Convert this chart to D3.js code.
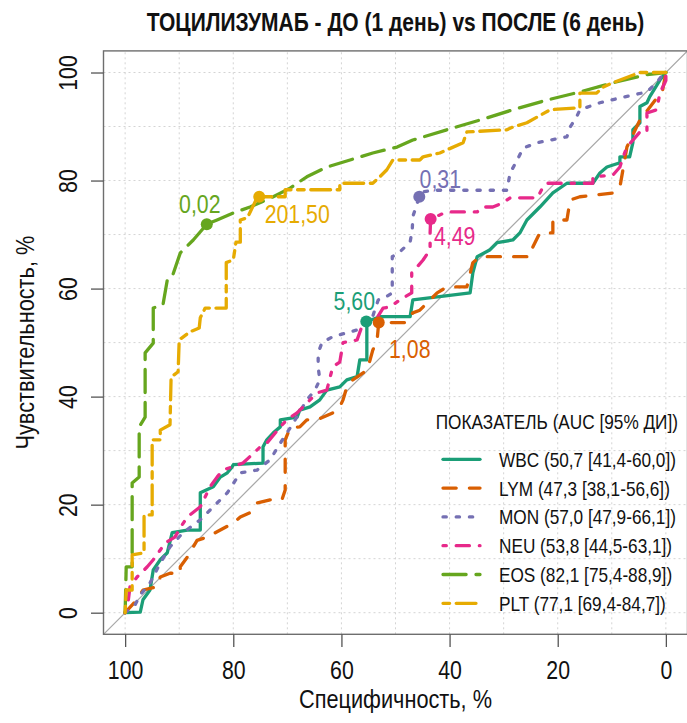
<!DOCTYPE html>
<html><head><meta charset="utf-8">
<script src="https://cdn.jsdelivr.net/npm/d3@7"></script>
<style>body{margin:0;background:#fff}svg{display:block}</style>
</head><body><svg id="c" width="687" height="723"></svg>
<script>
// ---------- DATA ----------
const seriesNames = ["WBC","LYM","MON","NEU","EOS","PLT"];
const legendLabels = ["WBC (50,7 [41,4-60,0])","LYM (47,3 [38,1-56,6])","MON (57,0 [47,9-66,1])",
  "NEU (53,8 [44,5-63,1])","EOS (82,1 [75,4-88,9])","PLT (77,1 [69,4-84,7])"];
const legendTitle = "ПОКАЗАТЕЛЬ (AUC [95% ДИ])";
const xTicks = [100,80,60,40,20,0];
const yTicks = [0,20,40,60,80,100];
const gridVals = [0,10,20,30,40,50,60,70,80,90,100];

// [specificity %, sensitivity %]
const WBC = [[100,0],[97.2,0.1],[96.7,2.4],[95.4,4.2],[94.8,7.9],[93.5,9.8],[92.2,11.1],[91.3,14.8],[88.5,15.3],[86.1,15.3],[86.1,22.2],[83.7,23.3],[82.4,25.1],[81.1,25.9],[80.2,27.0],[80.0,27.4],[74.5,27.7],[74.5,30.7],[73.8,32.0],[72.6,33.3],[71.3,34.4],[71.3,35.7],[68.2,36.2],[67.7,37.5],[65.8,38.1],[64.0,39.4],[62.7,41.2],[60.3,41.8],[59.0,43.1],[57.1,43.7],[56.6,46.8],[55.3,46.8],[55.3,53.9],[52.9,54.8],[47.3,54.8],[46.8,57.9],[36.2,59.2],[35.7,62.9],[34.9,65.9],[32.5,67.2],[31.2,68.5],[28.3,69.0],[27.0,70.3],[25.7,72.7],[23.3,75.1],[20.9,77.7],[18.3,79.5],[13.5,79.5],[12.2,81.4],[10.9,82.5],[8.5,83.3],[8.5,84.4],[6.7,84.4],[6.1,87.0],[6.1,89.4],[4.8,90.7],[4.8,93.7],[3.5,94.4],[3.0,95.5],[1.1,98.6],[0,100]];
const LYM = [[100,0],[97.8,2.4],[96.7,4.2],[94.1,4.8],[93.5,6.6],[91.7,7.3],[89.8,7.3],[89.8,8.5],[88.5,10.3],[86.7,13.4],[84.8,14.0],[82.4,15.3],[80.0,16.6],[78.7,17.7],[76.9,18.5],[75.6,20.3],[73.2,20.9],[71.0,20.9],[70.4,22.7],[70.4,32.0],[69.5,34.2],[67.7,34.4],[66.4,35.7],[64.5,35.7],[61.6,37.0],[60.3,38.1],[59.7,39.4],[59.0,41.8],[57.9,43.1],[56.0,44.4],[55.3,44.9],[54.7,46.8],[54.2,48.6],[53.4,50.5],[53.1,53.7],[50.5,53.7],[47.9,53.7],[46.8,55.5],[45.5,56.0],[43.6,57.9],[42.3,59.2],[40.5,60.3],[36.8,60.3],[35.7,64.8],[34.4,65.9],[30.1,65.9],[25.1,65.9],[24.6,67.7],[23.3,70.3],[20.9,70.3],[20.9,72.7],[18.3,72.7],[17.7,76.4],[15.9,77.0],[9.8,77.7],[9.1,78.3],[8.5,78.8],[7.2,86.2],[4.8,91.2],[0.6,96.7],[0,100]];
const MON = [[100,0],[98.2,1.4],[97.2,3.3],[95.4,5.5],[93.5,9.2],[91.7,12.2],[89.3,14.8],[86.1,17.2],[83.7,19.6],[81.1,22.2],[78.7,25.9],[75.6,26.4],[73.2,28.3],[71.3,31.4],[68.9,35.1],[66.4,39.4],[64.9,41.2],[64.0,43.1],[64.3,45.5],[64.3,48.1],[63.6,50.0],[61.6,51.1],[56.9,52.4],[54.3,54.6],[53.2,57.9],[51.9,58.4],[50.6,59.2],[50.6,65.9],[49.2,66.8],[47.3,68.6],[46.9,70.9],[46.8,73.3],[45.6,77.0],[44.9,77.9],[43.1,78.2],[29.4,78.2],[28.8,81.4],[27.5,83.8],[26.4,86.0],[23.8,87.0],[18.3,88.1],[17.7,89.9],[16.5,91.8],[15.9,93.1],[12.2,94.4],[8.5,95.3],[3.5,96.4],[1.7,98.1],[0.6,99.6],[0,100]];
const NEU = [[100,0],[99.4,2.4],[99.1,4.8],[97.8,6.6],[95.9,8.5],[94.8,9.8],[93.5,11.6],[92.6,12.9],[90.8,14.0],[89.5,16.2],[88.5,17.7],[86.1,19.6],[84.3,23.3],[83.0,25.1],[81.9,26.4],[78.2,27.7],[75.0,30.7],[73.8,31.4],[71.3,34.4],[70.1,35.7],[68.2,37.0],[67.1,38.1],[64.5,40.7],[62.7,41.2],[61.6,45.5],[60.3,46.4],[59.7,50.0],[57.1,50.5],[56.0,53.6],[53.4,54.6],[52.3,56.4],[51.0,56.6],[49.2,57.9],[47.0,59.2],[47.0,62.9],[46.0,64.0],[44.9,65.3],[43.6,67.2],[43.6,70.3],[43.5,72.9],[40.5,74.2],[34.9,74.2],[33.8,75.1],[32.0,75.1],[30.1,75.9],[28.8,76.8],[23.8,76.8],[22.7,78.8],[22.0,79.5],[13.5,79.5],[13.5,80.7],[9.8,81.0],[8.5,82.5],[7.9,84.4],[7.2,86.2],[4.8,89.0],[3.5,89.0],[3.5,92.5],[1.7,93.1],[1.1,96.2],[0,98.5],[0,100]];
const EOS = [[100,0],[99.8,8.5],[98.7,8.5],[98.7,24.0],[97.4,25.1],[97.4,34.4],[96.3,36.2],[96.3,48.1],[94.8,49.9],[94.8,56.4],[93.0,57.0],[92.2,61.6],[91.3,62.2],[89.8,66.6],[87.4,69.0],[84.9,71.9],[83.0,72.7],[80.0,74.0],[76.9,75.1],[72.6,77.0],[69.5,78.6],[66.4,80.7],[62.7,82.5],[58.4,83.8],[54.2,85.1],[49.7,86.2],[46.8,87.5],[40.5,89.4],[34.4,91.2],[28.3,93.1],[22.0,94.9],[15.9,96.4],[9.8,98.1],[3.5,99.6],[0,100]];
const PLT = [[100,0],[99.8,4.2],[98.7,4.2],[98.7,10.7],[96.5,11.1],[96.5,18.1],[95.0,18.1],[95.0,32.0],[93.5,32.0],[93.5,33.8],[91.7,34.8],[91.5,43.6],[90.2,44.6],[90.0,50.5],[88.0,52.0],[86.3,52.7],[86.1,54.6],[85.2,56.4],[81.3,56.4],[81.3,64.8],[80.0,65.3],[79.5,68.6],[78.7,68.6],[78.7,72.7],[77.4,73.1],[75.8,76.4],[75.2,77.0],[70.4,77.0],[70.4,78.3],[60.3,78.3],[60.3,79.5],[54.2,79.5],[52.9,80.7],[51.6,82.0],[50.5,83.8],[45.5,83.8],[44.9,84.4],[41.8,85.1],[37.5,87.0],[36.8,89.0],[29.4,89.4],[28.3,89.9],[25.7,90.7],[21.4,93.1],[15.9,93.5],[15.9,96.2],[12.8,96.2],[11.6,97.3],[9.8,98.1],[4.8,100],[0,100]];

// best thresholds (spec, sens, label) per series
const thrSpec = [55.4, 53.1, 45.6, 43.5, 84.9, 75.2];
const thrSens = [53.9, 53.7, 77.0, 72.9, 71.9, 77.0];
const thrLabels = ["5,60","1,08","0,31","4,49","0,02","201,50"];

// ---------- STYLE ----------
const colors = ["#1B9E77","#D95F02","#7570B3","#E7298A","#66A61E","#E6AB02"];
const L = 3.3;
const dashPat = [null,[4,4],[1,3],[1,3,4,3],[7,3],[2,2,6,2]];
const labelOff = [[-12,-12],[31,35],[21,-9],[24,26],[-7,-11],[38,26]];
const FONT = "'Liberation Sans', Arial, sans-serif";
const NX = 0.82;

const allSeries = [WBC, LYM, MON, NEU, EOS, PLT];

const svg = d3.select("#c");
const x = d3.scaleLinear().domain([104,-4]).range([103.5,687.5]);
const y = d3.scaleLinear().domain([-4,104]).range([634.3,50.9]);

// grid
const grid = svg.append("g").attr("stroke","#d4d4d4").attr("stroke-width",1).attr("stroke-dasharray","2,3");
grid.selectAll("line.v").data(gridVals).join("line").attr("class","v")
  .attr("x1",d=>x(d)).attr("x2",d=>x(d)).attr("y1",y(-4)).attr("y2",y(104));
grid.selectAll("line.h").data(gridVals).join("line").attr("class","h")
  .attr("y1",d=>y(d)).attr("y2",d=>y(d)).attr("x1",x(104)).attr("x2",x(-4));

// diagonal
svg.append("line").attr("x1",x(104)).attr("y1",y(-4)).attr("x2",x(-4)).attr("y2",y(104))
  .attr("stroke","#a8a8a8").attr("stroke-width",1.2);

// curves
const line = d3.line().x(d=>x(d[0])).y(d=>y(d[1]));
allSeries.forEach((s,i)=>{
  svg.append("path").attr("d",line(s)).attr("fill","none").attr("stroke",colors[i])
    .attr("stroke-width",L).attr("stroke-linecap","round").attr("stroke-linejoin","round")
    .attr("stroke-dasharray", dashPat[i] ? dashPat[i].map(v=>v*L).join(",") : null);
});

// thresholds
seriesNames.forEach((n,i)=>{
  svg.append("circle").attr("cx",x(thrSpec[i])).attr("cy",y(thrSens[i])).attr("r",6).attr("fill",colors[i]);
});
seriesNames.forEach((n,i)=>{
  svg.append("text").attr("transform",`translate(${x(thrSpec[i])+labelOff[i][0]},${y(thrSens[i])+labelOff[i][1]}) scale(${NX},1)`)
    .attr("text-anchor","middle").attr("font-family",FONT).attr("font-size",26).attr("fill",colors[i])
    .text(thrLabels[i]);
});

// box
svg.append("rect").attr("x",x(104)).attr("y",y(104)).attr("width",x(-4)-x(104)).attr("height",y(-4)-y(104))
  .attr("fill","none").attr("stroke","#6e6e6e").attr("stroke-width",1.4);

// axes
const xa = svg.append("g").attr("transform",`translate(0,${y(-4)})`)
  .call(d3.axisBottom(x).tickValues(xTicks).tickSize(12.7).tickFormat(d3.format("d")));
xa.select(".domain").remove();
xa.selectAll("line").attr("stroke","#555").attr("stroke-width",1.3);
xa.selectAll("text").attr("y",0).attr("dy",0).attr("font-family",FONT).attr("font-size",26).attr("fill","#111")
  .attr("transform",`translate(0,44.7) scale(${NX},1)`);

const ya = svg.append("g").attr("transform",`translate(${x(104)},0)`)
  .call(d3.axisLeft(y).tickValues(yTicks).tickSize(12.5).tickFormat(d3.format("d")));
ya.select(".domain").remove();
ya.selectAll("line").attr("stroke","#555").attr("stroke-width",1.3);
ya.selectAll("text").attr("x",0).attr("y",0).attr("dy",0).attr("text-anchor","middle")
  .attr("font-family",FONT).attr("font-size",26).attr("fill","#111")
  .attr("transform",`translate(-26.5,0) rotate(-90) scale(${NX},1)`);

// titles
svg.append("text").attr("transform",`translate(${(x(104)+x(-4))/2},31) scale(0.84,1)`).attr("text-anchor","middle")
  .attr("font-family",FONT).attr("font-weight","bold").attr("font-size",25).attr("fill","#111")
  .text("ТОЦИЛИЗУМАБ - ДО (1 день) vs ПОСЛЕ (6 день)");
svg.append("text").attr("transform",`translate(${(x(104)+x(-4))/2},708) scale(${NX},1)`).attr("text-anchor","middle")
  .attr("font-family",FONT).attr("font-size",26.5).attr("fill","#111").text("Специфичность, %");
svg.append("text").attr("transform",`translate(34,${(y(-4)+y(104))/2}) rotate(-90) scale(${NX},1)`).attr("text-anchor","middle")
  .attr("font-family",FONT).attr("font-size",26.5).attr("fill","#111").text("Чувствительность, %");

// legend
const lg = svg.append("g");
lg.append("text").attr("transform",`translate(678,429) scale(${NX},1)`).attr("text-anchor","end")
  .attr("font-family",FONT).attr("font-size",21).attr("fill","#111").text(legendTitle);
const rowY0 = 459.3, rowH = 28.8;
seriesNames.forEach((n,i)=>{
  const ry = rowY0 + i*rowH;
  lg.append("line").attr("x1",443).attr("x2",480).attr("y1",ry).attr("y2",ry)
    .attr("stroke",colors[i]).attr("stroke-width",L).attr("stroke-linecap","round")
    .attr("stroke-dasharray", dashPat[i] ? dashPat[i].map(v=>v*L).join(",") : null);
  lg.append("text").attr("transform",`translate(499,${ry+7.5}) scale(${NX},1)`)
    .attr("font-family",FONT).attr("font-size",21).attr("fill","#111").text(legendLabels[i]);
});
</script>
</body></html>
